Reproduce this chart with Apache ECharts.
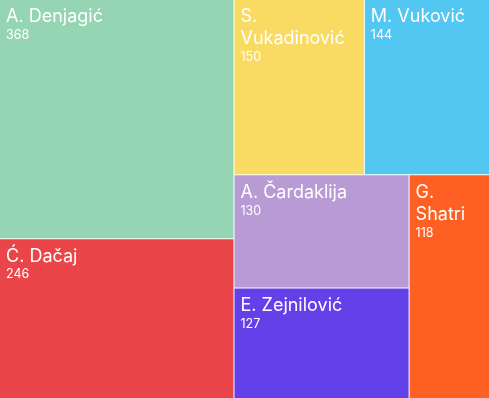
<!DOCTYPE html>
<html><head><meta charset="utf-8">
<script src="https://cdn.jsdelivr.net/npm/echarts@6/dist/echarts.min.js"></script>
<style>html,body{margin:0;padding:0;background:#fff}#c{width:489px;height:398px}</style>
</head><body><div id="c"></div>
<script>
const names = ['A. Denjagić', 'Ć. Dačaj', 'S. Vukadinović', 'M. Vuković', 'A. Čardaklija', 'E. Zejnilović', 'G. Shatri'];
const values = [368, 246, 150, 144, 130, 127, 118];
const colors = ['#95d5b4', '#ea4549', '#f9da62', '#52c7f2', '#b89ad4', '#6440e9', '#fe5f22'];

const FONT = 'Inter';
const NAME_SIZE = 18;
const ctx = document.createElement('canvas').getContext('2d');
function measure(t) { ctx.font = NAME_SIZE + 'px ' + FONT; return ctx.measureText(t).width; }
function wrap(name, maxW) {
  const words = name.split(' ');
  const lines = [];
  let cur = '';
  words.forEach(w => {
    const t = cur ? cur + ' ' + w : w;
    if (cur && measure(t) > maxW) { lines.push(cur); cur = w; } else { cur = t; }
  });
  if (cur) lines.push(cur);
  return lines;
}

const chart = echarts.init(document.getElementById('c'));
function build() {
  return {
    animation: false,
    series: [{
      type: 'treemap',
      left: 0, top: 0, right: 0, bottom: 0,
      width: '100%', height: '100%',
      roam: false,
      nodeClick: false,
      breadcrumb: { show: false },
      levels: [
        { itemStyle: { borderWidth: 0, gapWidth: 1, borderColor: '#fff' } },
        { itemStyle: { borderWidth: 0, gapWidth: 0 } }
      ],
      label: {
        show: true,
        position: 'insideTopLeft',
        padding: [6, 5, 5, 6],
        overflow: 'none',
        formatter: function (p) {
          let maxW = 1e9;
          try {
            const lay = chart.getModel().getSeriesByIndex(0).getData().getItemLayout(p.dataIndex);
            if (lay && lay.width) maxW = lay.width - 12;
          } catch (e) {}
          const lines = wrap(p.name, maxW).map(l => '{n|' + l + '}');
          return lines.join('\n') + '\n{v|' + p.value + '}';
        },
        rich: {
          n: { fontFamily: FONT, fontSize: NAME_SIZE, lineHeight: 22, color: '#fff' },
          v: { fontFamily: FONT, fontSize: 12.5, lineHeight: 15, color: '#fff' }
        }
      },
      data: names.map((n, i) => ({ name: n, value: values[i], itemStyle: { color: colors[i] } }))
    }]
  };
}
chart.setOption(build());
chart.setOption(build(), true);
</script></body></html>
